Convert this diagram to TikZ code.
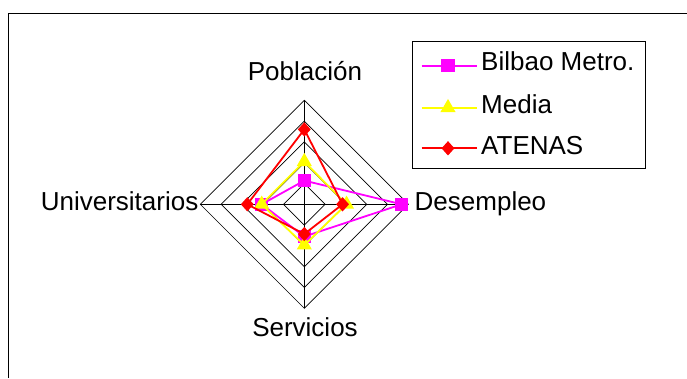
\documentclass[tikz,border=0pt]{standalone}
\usepackage{fontspec}
\setmainfont{Liberation Sans}
\usepackage{tikz}
\usetikzlibrary{shapes.geometric}
\definecolor{bilcol}{RGB}{255,0,255}
\definecolor{medcol}{RGB}{255,255,0}
\definecolor{atecol}{RGB}{255,0,0}
\tikzstyle{ring} = [line width=0.7pt]
\tikzstyle{serie} = [line width=1.8pt, line join=round]
\tikzstyle{sqmark} = [rectangle, fill=bilcol, minimum size=13.5pt, inner sep=0pt]
\tikzstyle{trimark} = [regular polygon, regular polygon sides=3, fill=medcol, minimum size=17.5pt, inner sep=0pt]
\tikzstyle{dimark} = [diamond, fill=atecol, minimum width=13pt, minimum height=14.5pt, inner sep=0pt]
\tikzstyle{txt} = [inner sep=0pt, font=\fontsize{26}{31}\selectfont]

\begin{document}
\begin{tikzpicture}[x=1pt,y=1pt]
\useasboundingbox (0,0) rectangle (687,378);
%frame
\draw[line width=0.8pt] (8,0) -- (8,364.7) -- (687,364.7);

%radar grid
\begin{scope}[shift={(304.3pt,173.7pt)}, x=20.8pt, y=20.8pt]
\foreach \r in {1,...,5}
  \draw[ring] (0,\r) -- (\r,0) -- (0,-\r) -- (-\r,0) -- cycle;
\draw[ring] (0,5) -- (0,-5);
\draw[ring] (-5,0) -- (5,0);

%data points
\coordinate (bil1) at (0,1.14);
\coordinate (bil2) at (4.68,0);
\coordinate (bil3) at (0,-1.55);
\coordinate (bil4) at (-2.05,0);
\coordinate (med1) at (0,2.05);
\coordinate (med2) at (2.03,0);
\coordinate (med3) at (0,-1.96);
\coordinate (med4) at (-2.05,0);
\coordinate (ate1) at (0,3.6);
\coordinate (ate2) at (1.84,0);
\coordinate (ate3) at (0,-1.43);
\coordinate (ate4) at (-2.74,0);

%series
\draw[serie, draw=bilcol] (bil1) -- (bil2) -- (bil3) -- (bil4) -- cycle;
\foreach \i in {1,...,4} \node[sqmark] (bilm\i) at (bil\i) {};
\draw[serie, draw=medcol] (med1) -- (med2) -- (med3) -- (med4) -- cycle;
\foreach \i in {1,...,4} \node[trimark] (medm\i) at (med\i) {};
\draw[serie, draw=atecol] (ate1) -- (ate2) -- (ate3) -- (ate4) -- cycle;
\foreach \i in {1,...,4} \node[dimark] (atem\i) at (ate\i) {};
\end{scope}

%axis labels
\node[txt, anchor=base] (pob) at (305,297.3) {Población};
\node[txt, anchor=base east] (uni) at (198.5,167.3) {Universitarios};
\node[txt, anchor=base west] (des) at (414.5,167.3) {Desempleo};
\node[txt, anchor=base] (ser) at (305,41.3) {Servicios};

%legend
\draw[line width=0.8pt] (412.3,209.7) rectangle (645,336.3);
\coordinate (lega) at (421.7,312.3);
\coordinate (legb) at (476.7,312.3);
\draw[serie, draw=bilcol] (lega) -- (legb);
\node[sqmark] (legbil) at (448,312.3) {};
\node[txt, anchor=base west] (txtbil) at (481,307.3) {Bilbao Metro.};
\coordinate (legc) at (421.7,270.3);
\coordinate (legd) at (476.7,270.3);
\draw[serie, draw=medcol] (legc) -- (legd);
\node[trimark] (legmed) at (448,270.3) {};
\node[txt, anchor=base west] (txtmed) at (481,264.7) {Media};
\coordinate (lege) at (421.7,229.7);
\coordinate (legf) at (476.7,229.7);
\draw[serie, draw=atecol] (lege) -- (legf);
\node[dimark] (legate) at (448,229.7) {};
\node[txt, anchor=base west] (txtate) at (481,224) {ATENAS};
\end{tikzpicture}
\end{document}
